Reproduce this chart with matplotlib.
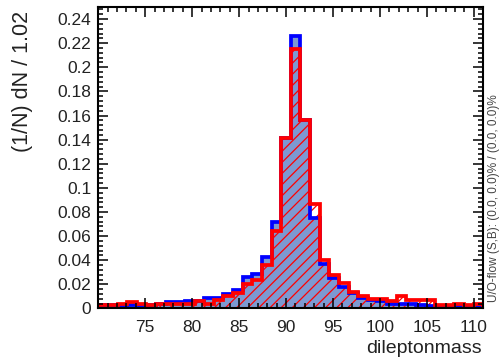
import matplotlib
matplotlib.use("Agg")
import matplotlib.pyplot as plt
import numpy as np
from matplotlib.ticker import MultipleLocator, FuncFormatter, FixedLocator

# 40 bins of width 1.025 from 70 to 111
edges = np.linspace(70.0, 111.0, 41)

blue = [
    0.003, 0.003, 0.002, 0.003, 0.002, 0.003, 0.004, 0.005, 0.005, 0.006,
    0.006, 0.009, 0.009, 0.012, 0.015, 0.026, 0.029, 0.043, 0.072, 0.141,
    0.226, 0.156, 0.075, 0.037, 0.025, 0.018, 0.013, 0.009, 0.007, 0.006,
    0.004, 0.004, 0.004, 0.003, 0.002, 0.002, 0.001, 0.002, 0.001, 0.001,
]
red = [
    0.003, 0.003, 0.004, 0.005, 0.004, 0.003, 0.004, 0.004, 0.004, 0.004,
    0.006, 0.004, 0.007, 0.010, 0.013, 0.020, 0.024, 0.036, 0.064, 0.141,
    0.215, 0.156, 0.087, 0.040, 0.028, 0.021, 0.014, 0.010, 0.008, 0.008,
    0.006, 0.010, 0.007, 0.007, 0.007, 0.003, 0.003, 0.004, 0.003, 0.004,
]
x_labels = [75, 80, 85, 90, 95, 100, 105, 110]

plt.rcParams["font.family"] = ["Liberation Sans", "DejaVu Sans"]
plt.rcParams["hatch.linewidth"] = 0.9

fig = plt.figure(figsize=(5.02, 3.64), dpi=100)
ax = fig.add_axes([0.1958, 0.1525, 0.7669, 0.8283])

ax.stairs(blue, edges, fill=True, color="#7d99d1", linewidth=0)
ax.stairs(red, edges, fill=True, facecolor="none", edgecolor="red",
          hatch="///", linewidth=0)
ax.stairs(blue, edges, color="blue", linewidth=2.7)
ax.stairs(red, edges, color="red", linewidth=2.7)

ax.set_xlim(70, 111)
ax.set_ylim(0, 0.25)
ax.xaxis.set_major_locator(FixedLocator(x_labels))
ax.xaxis.set_minor_locator(MultipleLocator(1))
ax.yaxis.set_major_locator(MultipleLocator(0.02))
ax.yaxis.set_minor_locator(MultipleLocator(0.004))
ax.yaxis.set_major_formatter(FuncFormatter(lambda v, _: f"{v:g}"))
ax.tick_params(which="both", direction="in", top=True, right=True,
               width=1.1, labelsize=12.5, labelcolor="#222222")
ax.tick_params(axis="x", pad=8)
ax.tick_params(axis="y", pad=5)
ax.tick_params(which="major", length=7)
ax.tick_params(which="minor", length=3.6)
for spine in ax.spines.values():
    spine.set_linewidth(1.5)

fig.text(0.045, 0.97, "(1/N) dN / 1.02", rotation=90, ha="center", va="top",
         fontsize=15.5, color="#222222")
fig.text(0.96, 0.02, "dileptonmass", ha="right", va="bottom",
         fontsize=14, color="#222222")
fig.text(0.985, 0.17, "U/O-flow (S,B): (0.0, 0.0)% / (0.0, 0.0)%",
         rotation=90, ha="center", va="bottom", fontsize=8.5, color="#444444")

fig.savefig("out.png", dpi=100)
